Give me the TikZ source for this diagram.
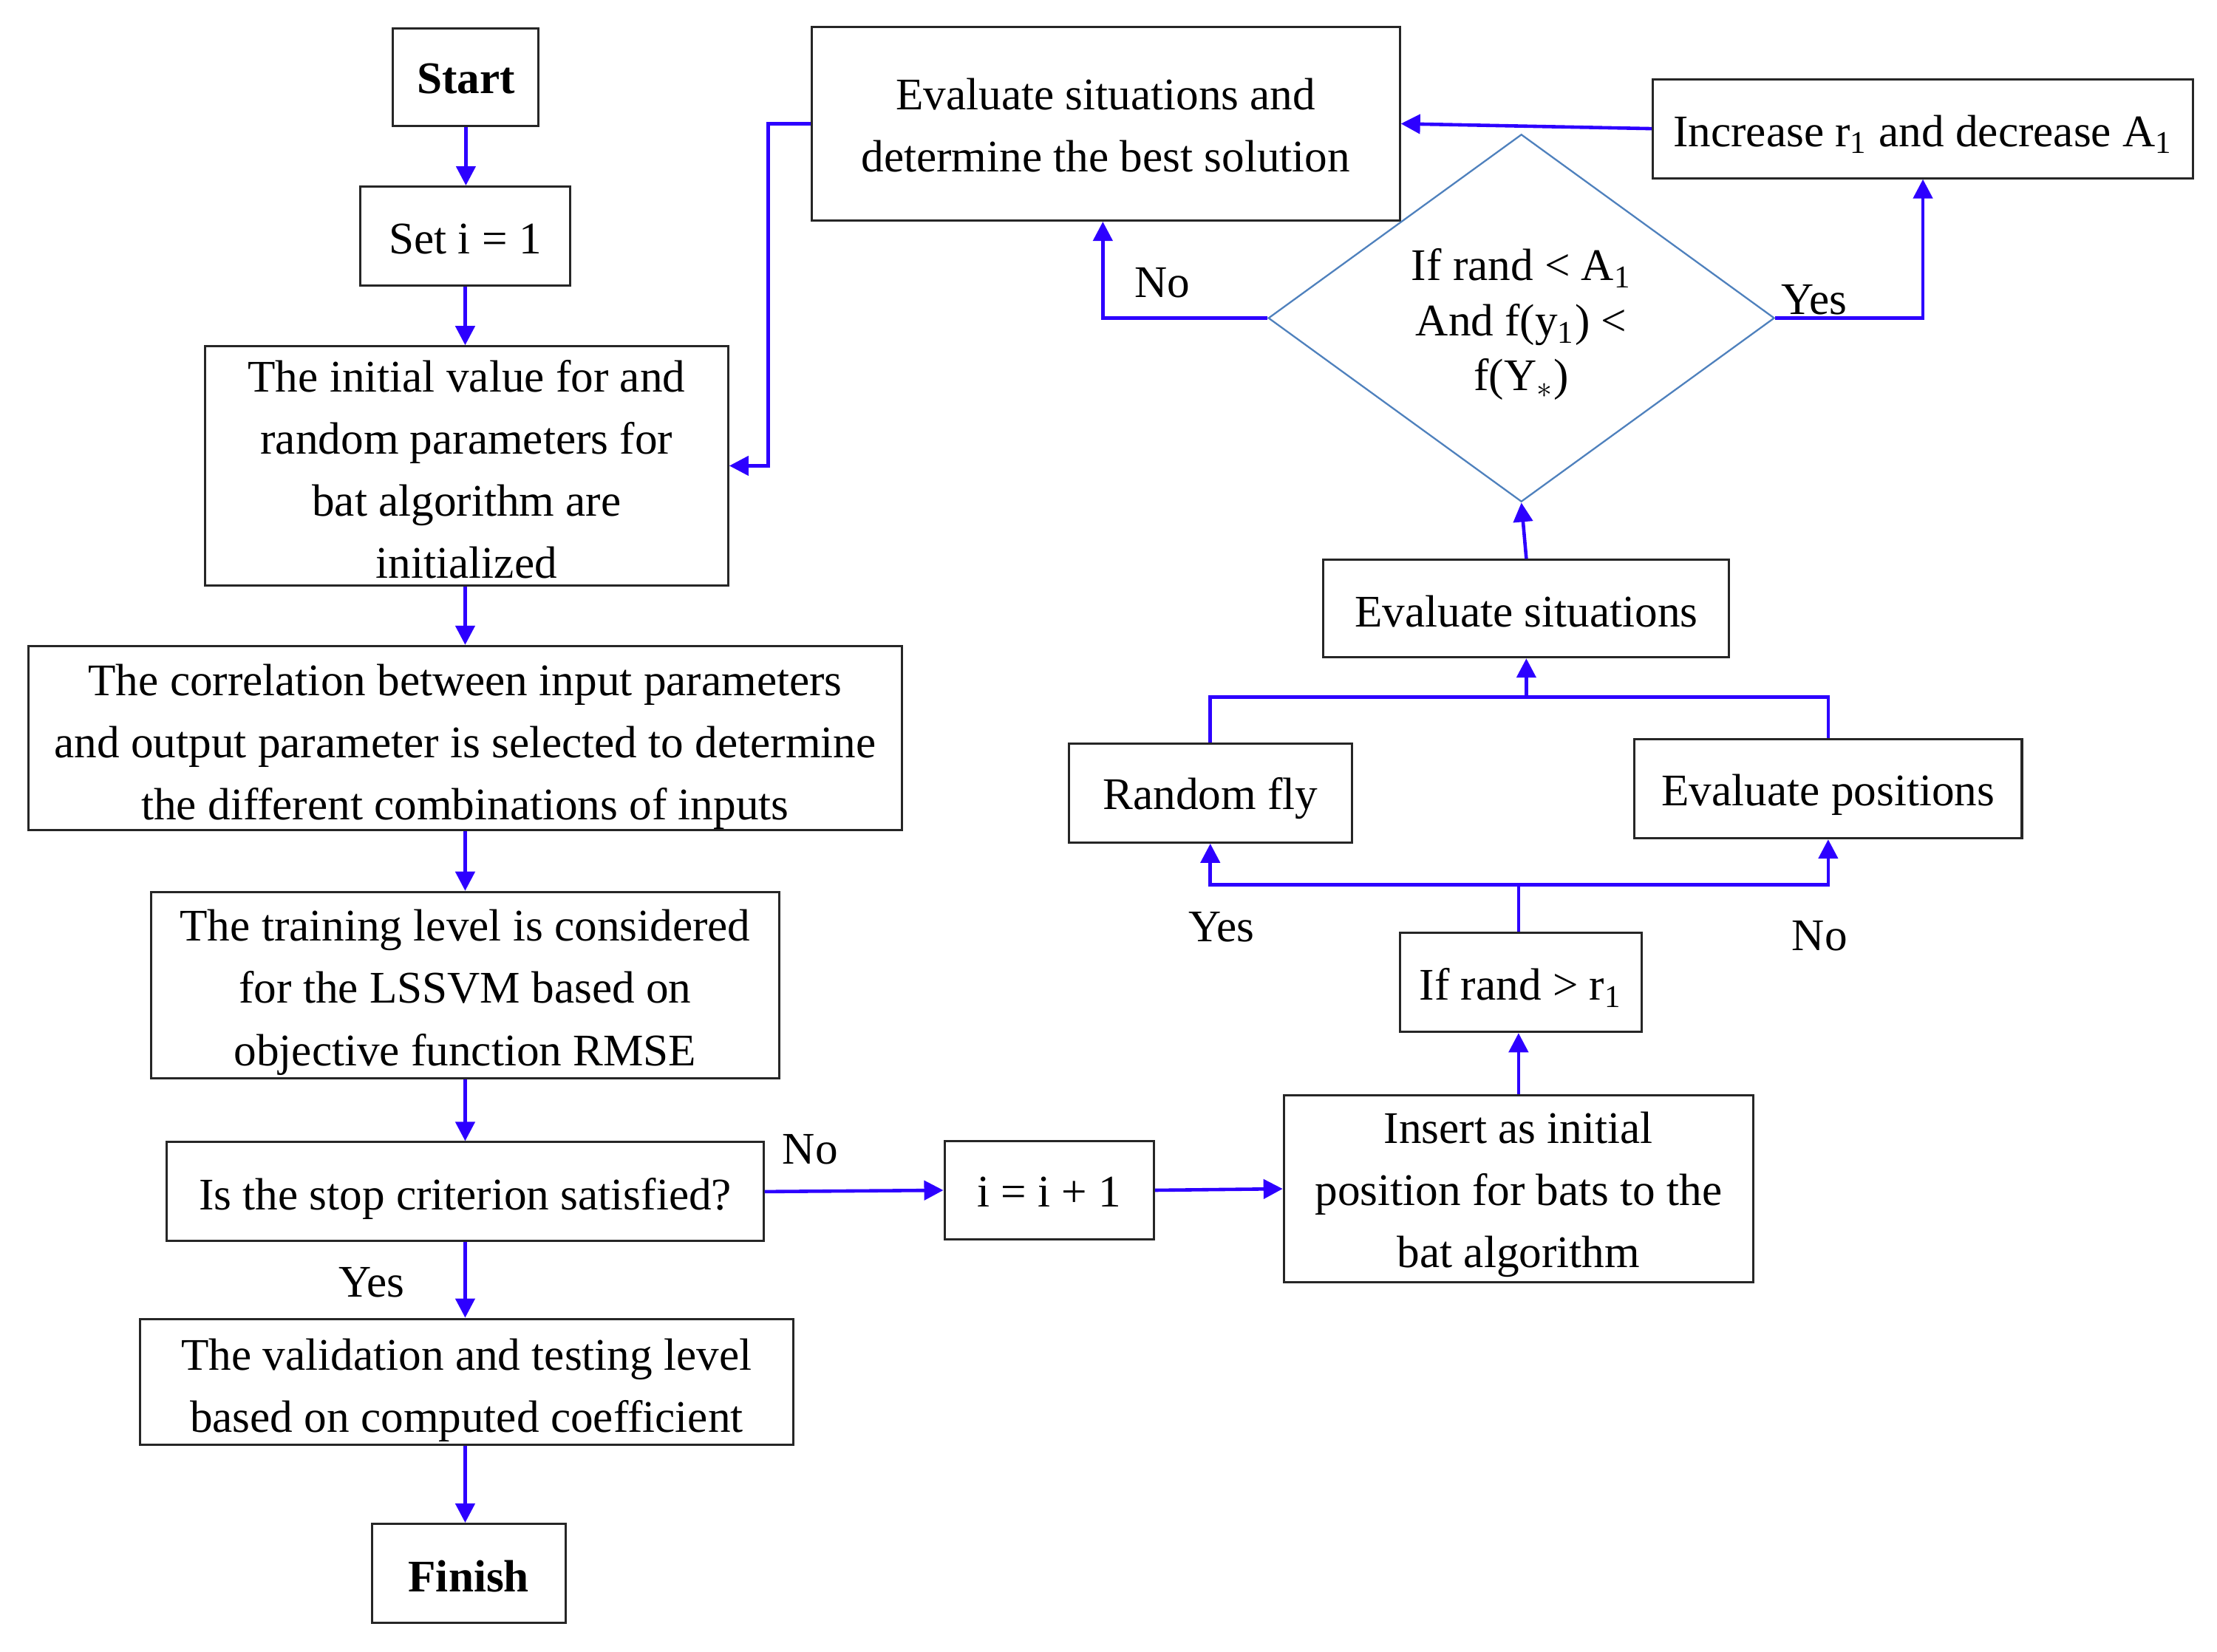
\documentclass[tikz,border=0pt]{standalone}
\usepackage{fontspec}
\setmainfont{Liberation Serif}
\usetikzlibrary{arrows.meta,shapes.geometric}
\definecolor{arrblue}{RGB}{45,0,255}
\definecolor{diablue}{RGB}{79,129,189}
\newcommand\bx[7]{\node[frame,minimum width=#4,minimum height=#5] (#1) at (#2,#3) {};
  \node[txt] (#1t) at ([yshift=-#6]#1.center) {#7};}
\begin{document}
\begin{tikzpicture}[x=0.5pt,y=-0.5pt,
  frame/.style={draw=black!85,line width=0.8pt,inner sep=0pt},
  txt/.style={inner sep=0pt,align=center,font=\fontsize{16}{22}\selectfont},
  line/.style={draw=arrblue,line width=1.2pt},
  conn/.style={line,-{Triangle[length=6.8pt,width=6.8pt]}},
  lbl/.style={font=\fontsize{16}{22}\selectfont,inner sep=0pt}]
\useasboundingbox (0,0) rectangle (1568,1168.6);
% left column
\bx{start}{329.5}{54.5}{51.5pt}{34.5pt}{0.7pt}{\textbf{Start}}
\bx{set}{329}{167}{74pt}{35pt}{1pt}{Set i = 1}
\bx{init}{330}{329.5}{185pt}{84.5pt}{1.2pt}{The initial value for and\\random parameters for\\bat algorithm are\\initialized}
\bx{corr}{329}{522}{309pt}{65pt}{3.2pt}{The correlation between input parameters\\and output parameter is selected to determine\\the different combinations of inputs}
\bx{train}{329}{697}{222pt}{66pt}{2.5pt}{The training level is considered\\for the LSSVM based on\\objective function RMSE}
\bx{stop}{329}{843}{211pt}{35pt}{2.4pt}{Is the stop criterion satisfied?}
\bx{valid}{330}{977.5}{231pt}{44.5pt}{3pt}{The validation and testing level\\based on computed coefficient}
\bx{finish}{331.5}{1113}{68.5pt}{35pt}{1pt}{\textbf{Finish}}
% right part
\bx{evb}{782}{87.5}{208pt}{68.5pt}{0.5pt}{Evaluate situations and\\determine the best solution}
\bx{inc}{1360}{91}{191pt}{35pt}{2pt}{Increase r\textsubscript{1} and decrease A\textsubscript{1}}
\node[diamond,draw=diablue,line width=0.6pt,inner sep=0pt,aspect=1.377,minimum width=179pt,minimum height=130pt] (dia) at (1076,225) {};
\node[txt,font=\fontsize{16}{19.5}\selectfont] (diat) at ([yshift=-2.3pt]dia.center) {If rand {\textless} A\textsubscript{1}\\And f(y\textsubscript{1}) {\textless}\\f(Y$_{*}$)};
\bx{esit}{1079.5}{430.5}{143.5pt}{34.5pt}{1pt}{Evaluate situations}
\bx{rfly}{856}{561}{100pt}{35pt}{2pt}{Random fly}
\bx{epos}{1293}{558}{137pt}{35pt}{2pt}{Evaluate positions}
\bx{ifr}{1075.5}{695}{85.5pt}{35pt}{2pt}{If rand {\textgreater} r\textsubscript{1}}
\bx{ins}{1074}{841}{166pt}{66pt}{2pt}{Insert as initial\\position for bats to the\\bat algorithm}
\bx{inci}{742}{842}{74pt}{35pt}{0.6pt}{i = i + 1}
% left column arrows
\draw[conn] (start.south) -- (start.south |- set.north);
\draw[conn] (set.south) -- (set.south |- init.north);
\draw[conn] (set.south |- init.south) -- (set.south |- corr.north);
\draw[conn] (set.south |- corr.south) -- (set.south |- train.north);
\draw[conn] (set.south |- train.south) -- (set.south |- stop.north);
\draw[conn] (stop.south) -- (stop.south |- valid.north);
\draw[conn] (stop.south |- valid.south) -- (stop.south |- finish.north);
% loop
\draw[conn] (stop.east) -- (inci.west);
\draw[conn] (inci.east) -- (ins.west);
\draw[conn] (ins.north) -- (ins.north |- ifr.south);
\coordinate (ys) at (0,626);
\coordinate (ym) at (0,493);
\draw[line] (ins.north |- ifr.north) -- (ins.north |- ys);
\draw[conn] (ins.north |- ys) -| (rfly.south);
\draw[conn] (ins.north |- ys) -| (epos.south);
\draw[line] (rfly.north) |- (epos.north |- ym) -- (epos.north);
\draw[conn] (esit.south |- ym) -- (esit.south);
\draw[conn] (esit.north) -- (dia.south);
\draw[conn] (dia.west) -| ([xshift=-1pt]evb.south);
\draw[conn] (dia.east) -| (inc.south);
\draw[conn] (inc.west) -- (evb.east);
\draw[conn] (evb.west) -- ++(-15pt,0) |- (init.east);
% labels
\node[lbl] (lno1) at (573,813) {No};
\node[lbl] (lyes1) at (263,907) {Yes};
\node[lbl] (lno2) at (822,200) {No};
\node[lbl] (lyes2) at (1283,212) {Yes};
\node[lbl] (lyes3) at (864,656) {Yes};
\node[lbl] (lno3) at (1287,662) {No};
\end{tikzpicture}
\end{document}
